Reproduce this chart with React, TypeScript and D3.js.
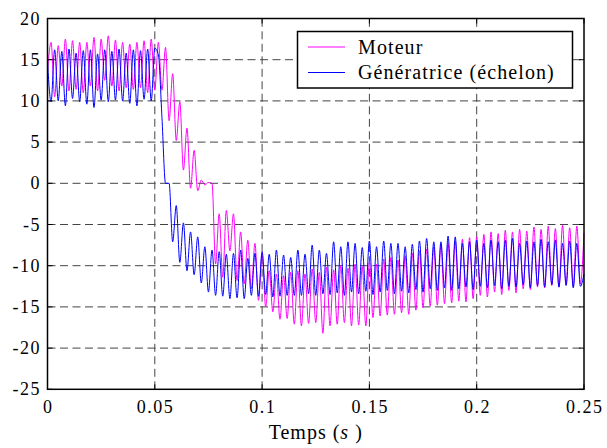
import React from "react";
import * as d3 from "d3";

// pas d'échantillonnage : une demi-période d'ondulation
const tempsFin = 0.25;
const nbPas = 150;

// Moteur (magenta)
const moteurAvant = [
  13.5, 17.1, 10.5, 16.7, 11.8, 17.5, 11.2, 17.3, 11.4, 17.1,
  11.0, 17.1, 11.8, 17.7, 11.2, 17.5, 12.5, 17.9, 11.8, 17.4,
  11.2, 17.1, 11.6, 16.9, 11.4, 17.1, 11.6, 17.3, 11.0, 17.5,
  11.3, 17.1, 11.3,
];
const moteurChute = [
  16.5, 7.6, 13.3, 5.2, 9.9, 1.6, 6.7, -0.6, 4.0, -0.9,
  0.4, -0.2, 0.1, 0.0,
];
const moteurApres = [
  -9.8, -3.7, -11.4, -3.3, -8.2, -3.7, -11.8, -5.9, -12.2, -6.9,
  -12.8, -7.3, -14.2, -8.5, -15.0, -10.6, -15.6, -11.0, -16.5, -11.2,
  -16.4, -10.8, -17.1, -10.6, -17.3, -11.0, -17.0, -10.4, -16.9, -10.8,
  -18.2, -10.2, -17.3, -10.5, -17.1, -10.0, -16.9, -10.3, -17.3, -9.8,
  -17.2, -10.1, -17.3, -9.5, -16.3, -9.8, -16.1, -9.2, -16.0, -9.0,
  -15.9, -9.3, -15.7, -8.8, -15.9, -8.5, -15.4, -8.2, -15.1, -8.0,
  -14.9, -7.7, -14.8, -7.5, -14.6, -7.3, -14.5, -7.0, -14.3, -6.8,
  -14.4, -6.6, -14.0, -6.5, -13.6, -6.2, -13.8, -5.9, -13.2, -6.1,
  -13.5, -5.7, -13.0, -5.9, -13.3, -5.6, -12.8, -5.8, -12.9, -5.3,
  -12.6, -5.6, -12.7, -5.2, -12.4, -5.5, -12.6, -5.1, -12.3, -5.4,
  -12.5, -5.2, -12.2, -6.0,
];

// Génératrice (échelon) (bleu)
const generatriceAvant = [
  14.8, 9.9, 16.2, 10.0, 16.0, 9.4, 16.3, 10.3, 15.8, 9.9,
  16.1, 9.6, 16.2, 9.2, 15.7, 10.1, 16.2, 9.9, 16.0, 10.1,
  16.3, 10.0, 15.8, 9.7, 16.2, 9.4, 16.1, 10.2, 16.3, 10.0,
  16.4, 15.6,
];
const generatriceChute = [
  8.0, 0.0, 0.0, -7.1, -2.7, -9.6, -4.8, -10.6, -5.9, -11.1,
  -6.5, -12.1, -7.7, -13.2, -8.1,
];
const generatriceApres = [
  -13.6, -8.3, -13.7, -8.6, -14.0, -8.5, -13.9, -8.1, -14.0, -9.1,
  -13.6, -8.5, -13.7, -8.3, -13.5, -8.6, -13.8, -8.1, -13.7, -8.7,
  -13.6, -9.0, -13.6, -8.1, -13.6, -8.6, -13.4, -7.5, -13.6, -8.1,
  -13.4, -8.5, -13.5, -7.1, -13.3, -7.7, -13.6, -7.1, -13.2, -7.3,
  -13.4, -7.8, -13.1, -7.0, -13.5, -7.7, -13.2, -7.0, -13.0, -7.3,
  -13.4, -7.3, -13.1, -7.7, -13.3, -7.4, -12.9, -7.0, -13.2, -6.7,
  -12.8, -7.1, -13.0, -7.1, -12.7, -6.4, -13.0, -6.5, -12.8, -7.3,
  -12.6, -7.1, -12.9, -6.9, -12.5, -7.3, -12.7, -6.9, -12.4, -7.1,
  -12.8, -6.9, -12.5, -6.7, -12.6, -7.3, -12.3, -7.0, -12.7, -7.1,
  -12.4, -6.8, -12.6, -7.1, -12.3, -6.9, -12.6, -7.3, -12.4, -7.0,
  -12.7, -7.3, -12.5, -11.0,
];

const xTicks = [0, 0.05, 0.1, 0.15, 0.2, 0.25];
const xTickLabels = ["0", "0.05", "0.1", "0.15", "0.2", "0.25"];
const yTicks = [-25, -20, -15, -10, -5, 0, 5, 10, 15, 20];

const series = [
  { name: "Moteur", color: "#ff00ff", values: [...moteurAvant, ...moteurChute, ...moteurApres] },
  { name: "Génératrice (échelon)", color: "#0000ff", values: [...generatriceAvant, ...generatriceChute, ...generatriceApres] },
];

const W = 607;
const H = 448;
const left = 47.5;
const right = 584;
const top = 18.5;
const bottom = 389.3;
const font = '"Liberation Serif", "Times New Roman", Times, serif';

export default function App() {
  const x = d3.scaleLinear().domain([0, tempsFin]).range([left, right]);
  const y = d3.scaleLinear().domain([-25, 20]).range([bottom, top]);
  const line = d3
    .line<number>()
    .x((d, i) => x((i * tempsFin) / nbPas))
    .y((d) => y(d))
    .curve(d3.curveMonotoneX);

  return (
    <svg
      width={W}
      height={H}
      style={{ position: "absolute", left: 0, top: 0, background: "#fff", fontFamily: font }}
    >
      {/* grille */}
      <g stroke="#444" strokeWidth={1} strokeDasharray="8,4.5">
        {xTicks.slice(1, -1).map((t) => (
          <line key={"gx" + t} x1={x(t)} x2={x(t)} y1={bottom} y2={top} />
        ))}
        {yTicks.slice(1, -1).map((t) => (
          <line key={"gy" + t} x1={left} x2={right} y1={y(t)} y2={y(t)} />
        ))}
      </g>

      {/* courbes */}
      <g fill="none" strokeWidth={1} strokeLinejoin="round">
        {series.map((s) => (
          <path key={s.name} d={line(s.values) || ""} stroke={s.color} />
        ))}
      </g>

      {/* cadre et graduations */}
      <rect x={left} y={top} width={right - left} height={bottom - top} fill="none" stroke="#000" strokeWidth={1.5} />
      <g stroke="#000" strokeWidth={1}>
        {xTicks.map((t) => (
          <g key={"tx" + t}>
            <line x1={x(t)} x2={x(t)} y1={bottom} y2={bottom - 5} />
            <line x1={x(t)} x2={x(t)} y1={top} y2={top + 5} />
          </g>
        ))}
        {yTicks.map((t) => (
          <g key={"ty" + t}>
            <line x1={left} x2={left + 5} y1={y(t)} y2={y(t)} />
            <line x1={right} x2={right - 5} y1={y(t)} y2={y(t)} />
          </g>
        ))}
      </g>

      <g fontSize={18} fill="#000" style={{ fontFamily: font, letterSpacing: "1.5px" }}>
        {xTicks.map((t, i) => (
          <text key={"lx" + t} x={x(t) + 0.75} y={413} textAnchor="middle">
            {xTickLabels[i]}
          </text>
        ))}
        {yTicks.map((t) => (
          <text key={"ly" + t} x={41} y={y(t) + 6} textAnchor="end">
            {String(t)}
          </text>
        ))}
      </g>

      <text
        x={(left + right) / 2}
        y={439}
        fontSize={20}
        textAnchor="middle"
        style={{ fontFamily: font, letterSpacing: "1px" }}
      >
        <tspan>Temps (</tspan>
        <tspan fontStyle="italic">s</tspan>
        <tspan> )</tspan>
      </text>

      {/* légende */}
      <rect x={297.5} y={31.5} width={275} height={56.5} fill="#fff" stroke="#000" strokeWidth={1.5} />
      {series.map((s, i) => (
        <g key={"lg" + s.name}>
          <line x1={308} x2={345} y1={47 + i * 25.5} y2={47 + i * 25.5} stroke={s.color} strokeWidth={1} />
          <text
            x={358}
            y={53.5 + i * 25.5}
            fontSize={20}
            style={{ fontFamily: font, letterSpacing: "1.1px" }}
          >
            {s.name}
          </text>
        </g>
      ))}
    </svg>
  );
}
